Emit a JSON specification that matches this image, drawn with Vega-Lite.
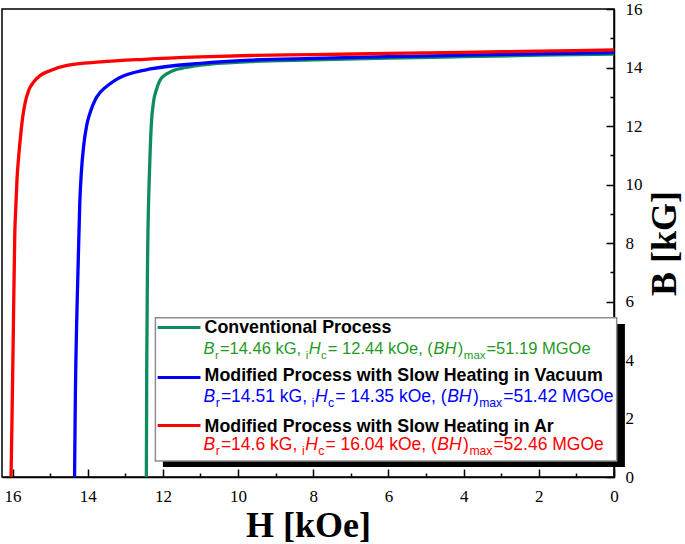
{
  "$schema": "https://vega.github.io/schema/vega-lite/v6.json",
  "width": 612,
  "height": 468,
  "padding": {"left": 2, "top": 9, "right": 71, "bottom": 67},
  "autosize": {"type": "none"},
  "background": "white",
  "config": {
    "view": {"stroke": "#000", "strokeWidth": 1.5},
    "axis": {"labelFont": "Liberation Serif", "labelFontSize": 17, "labelColor": "#000", "titleFont": "Liberation Serif", "titleFontSize": 36, "titleFontWeight": "bold", "titleColor": "#000", "tickColor": "#000", "domainColor": "#000", "grid": false}
  },
  "resolve": {"axis": {"x": "independent", "y": "independent"}},
  "layer": [
    {
      "data": {"values": [
        {"process": "Conventional Process", "H": 0, "B": 14.46},
        {"process": "Conventional Process", "H": 2, "B": 14.42},
        {"process": "Conventional Process", "H": 4, "B": 14.37},
        {"process": "Conventional Process", "H": 6, "B": 14.32},
        {"process": "Conventional Process", "H": 8, "B": 14.26},
        {"process": "Conventional Process", "H": 9.68, "B": 14.2},
        {"process": "Conventional Process", "H": 11, "B": 14.08},
        {"process": "Conventional Process", "H": 11.4, "B": 14.0},
        {"process": "Conventional Process", "H": 11.72, "B": 13.9},
        {"process": "Conventional Process", "H": 11.9, "B": 13.78},
        {"process": "Conventional Process", "H": 12.07, "B": 13.58},
        {"process": "Conventional Process", "H": 12.17, "B": 13.25},
        {"process": "Conventional Process", "H": 12.25, "B": 12.82},
        {"process": "Conventional Process", "H": 12.31, "B": 12.0},
        {"process": "Conventional Process", "H": 12.35, "B": 10.7},
        {"process": "Conventional Process", "H": 12.41, "B": 7.15},
        {"process": "Conventional Process", "H": 12.43, "B": 3.74},
        {"process": "Conventional Process", "H": 12.44, "B": 0},
        {"process": "Modified Process with Slow Heating in Vacuum", "H": 0, "B": 14.51},
        {"process": "Modified Process with Slow Heating in Vacuum", "H": 2, "B": 14.47},
        {"process": "Modified Process with Slow Heating in Vacuum", "H": 4, "B": 14.42},
        {"process": "Modified Process with Slow Heating in Vacuum", "H": 6, "B": 14.37},
        {"process": "Modified Process with Slow Heating in Vacuum", "H": 8, "B": 14.31},
        {"process": "Modified Process with Slow Heating in Vacuum", "H": 9.68, "B": 14.25},
        {"process": "Modified Process with Slow Heating in Vacuum", "H": 11, "B": 14.14},
        {"process": "Modified Process with Slow Heating in Vacuum", "H": 12.33, "B": 13.95},
        {"process": "Modified Process with Slow Heating in Vacuum", "H": 12.9, "B": 13.78},
        {"process": "Modified Process with Slow Heating in Vacuum", "H": 13.21, "B": 13.61},
        {"process": "Modified Process with Slow Heating in Vacuum", "H": 13.45, "B": 13.4},
        {"process": "Modified Process with Slow Heating in Vacuum", "H": 13.66, "B": 13.16},
        {"process": "Modified Process with Slow Heating in Vacuum", "H": 13.8, "B": 12.9},
        {"process": "Modified Process with Slow Heating in Vacuum", "H": 13.93, "B": 12.48},
        {"process": "Modified Process with Slow Heating in Vacuum", "H": 14.03, "B": 12.0},
        {"process": "Modified Process with Slow Heating in Vacuum", "H": 14.11, "B": 11.3},
        {"process": "Modified Process with Slow Heating in Vacuum", "H": 14.17, "B": 10.4},
        {"process": "Modified Process with Slow Heating in Vacuum", "H": 14.21, "B": 9.42},
        {"process": "Modified Process with Slow Heating in Vacuum", "H": 14.28, "B": 6.02},
        {"process": "Modified Process with Slow Heating in Vacuum", "H": 14.33, "B": 2.61},
        {"process": "Modified Process with Slow Heating in Vacuum", "H": 14.35, "B": 0},
        {"process": "Modified Process with Slow Heating in Ar", "H": 0, "B": 14.6},
        {"process": "Modified Process with Slow Heating in Ar", "H": 2, "B": 14.56},
        {"process": "Modified Process with Slow Heating in Ar", "H": 4, "B": 14.52},
        {"process": "Modified Process with Slow Heating in Ar", "H": 6, "B": 14.48},
        {"process": "Modified Process with Slow Heating in Ar", "H": 8, "B": 14.44},
        {"process": "Modified Process with Slow Heating in Ar", "H": 9.68, "B": 14.41},
        {"process": "Modified Process with Slow Heating in Ar", "H": 11, "B": 14.36},
        {"process": "Modified Process with Slow Heating in Ar", "H": 12.5, "B": 14.28},
        {"process": "Modified Process with Slow Heating in Ar", "H": 13.66, "B": 14.19},
        {"process": "Modified Process with Slow Heating in Ar", "H": 14.55, "B": 14.07},
        {"process": "Modified Process with Slow Heating in Ar", "H": 14.99, "B": 13.9},
        {"process": "Modified Process with Slow Heating in Ar", "H": 15.26, "B": 13.73},
        {"process": "Modified Process with Slow Heating in Ar", "H": 15.44, "B": 13.5},
        {"process": "Modified Process with Slow Heating in Ar", "H": 15.57, "B": 13.22},
        {"process": "Modified Process with Slow Heating in Ar", "H": 15.66, "B": 12.82},
        {"process": "Modified Process with Slow Heating in Ar", "H": 15.73, "B": 12.3},
        {"process": "Modified Process with Slow Heating in Ar", "H": 15.79, "B": 11.6},
        {"process": "Modified Process with Slow Heating in Ar", "H": 15.84, "B": 10.9},
        {"process": "Modified Process with Slow Heating in Ar", "H": 15.88, "B": 10.2},
        {"process": "Modified Process with Slow Heating in Ar", "H": 15.91, "B": 9.3},
        {"process": "Modified Process with Slow Heating in Ar", "H": 15.94, "B": 8.3},
        {"process": "Modified Process with Slow Heating in Ar", "H": 15.98, "B": 4.89},
        {"process": "Modified Process with Slow Heating in Ar", "H": 16.02, "B": 1.49},
        {"process": "Modified Process with Slow Heating in Ar", "H": 16.04, "B": 0}
      ]},
      "mark": {"type": "line", "strokeWidth": 3.3, "interpolate": "monotone"},
      "encoding": {
        "x": {
          "field": "H", "type": "quantitative",
          "scale": {"domain": [0, 16.28], "reverse": true, "nice": false, "zero": false},
          "axis": {
            "title": "H [kOe]", "titleFont": "Liberation Serif", "titleFontSize": 36, "titleFontWeight": "bold", "titleColor": "#000", "titlePadding": 4,
            "values": [0, 2, 4, 6, 8, 10, 12, 14, 16],
            "labelFont": "Liberation Serif", "labelFontSize": 17, "labelColor": "#000", "labelPadding": 19,
            "labelFlush": false, "labelOverlap": false,
            "tickSize": -8, "tickColor": "#000", "tickWidth": 1.5, "domainColor": "#000", "domainWidth": 1.5, "grid": false
          }
        },
        "y": {
          "field": "B", "type": "quantitative",
          "scale": {"domain": [0, 16], "nice": false, "zero": false},
          "axis": {
            "orient": "right",
            "title": "B [kG]", "titleFont": "Liberation Serif", "titleFontSize": 36, "titleFontWeight": "bold", "titleColor": "#000", "titlePadding": 5,
            "titleAngle": -90, "titleBaseline": "top",
            "values": [0, 2, 4, 6, 8, 10, 12, 14, 16],
            "labelFont": "Liberation Serif", "labelFontSize": 17, "labelColor": "#000", "labelPadding": 19,
            "labelFlush": false, "labelOverlap": false,
            "tickSize": -8, "tickColor": "#000", "tickWidth": 1.5, "domainColor": "#000", "domainWidth": 1.5, "grid": false
          }
        },
        "color": {"field": "process", "type": "nominal", "legend": null,
          "scale": {"domain": ["Conventional Process", "Modified Process with Slow Heating in Vacuum", "Modified Process with Slow Heating in Ar"], "range": ["#0e8c5c", "#0000ff", "#ff0000"]}},
        "order": {"field": "H", "sort": "descending"}
      }
    },
    {
      "data": {"values": [{"H": 12.0, "H2": -0.29, "B": 5.23, "B2": 0.34}]},
      "mark": {"type": "rect", "fill": "#000"},
      "encoding": {
        "x": {"field": "H", "type": "quantitative",
          "axis": {"orient": "bottom", "values": [1, 3, 5, 7, 9, 11, 13, 15], "labels": false, "domain": false, "title": null, "tickSize": -4, "tickColor": "#000", "tickWidth": 1.5, "grid": false}},
        "x2": {"field": "H2"},
        "y": {"field": "B", "type": "quantitative",
          "axis": {"orient": "right", "values": [1, 3, 5, 7, 9, 11, 13, 15], "labels": false, "domain": false, "title": null, "tickSize": -4, "tickColor": "#000", "tickWidth": 1.5, "grid": false}},
        "y2": {"field": "B2"}
      }
    },
    {
      "data": {"values": [{"H": 12.2, "H2": -0.072, "B": 5.447, "B2": 0.545}]},
      "mark": {"type": "rect", "fill": "#fff", "stroke": "#8c8c8c", "strokeWidth": 1.5},
      "encoding": {
        "x": {"field": "H", "type": "quantitative", "axis": null},
        "x2": {"field": "H2"},
        "y": {"field": "B", "type": "quantitative", "axis": null},
        "y2": {"field": "B2"}
      }
    },
    {
      "data": {"values": [
        {"process": "Conventional Process", "H": 12.14, "H2": 11.0, "B": 5.11},
        {"process": "Modified Process with Slow Heating in Vacuum", "H": 12.14, "H2": 11.0, "B": 3.4},
        {"process": "Modified Process with Slow Heating in Ar", "H": 12.14, "H2": 11.0, "B": 1.76}
      ]},
      "mark": {"type": "rule", "strokeWidth": 3},
      "encoding": {
        "x": {"field": "H", "type": "quantitative", "axis": null},
        "x2": {"field": "H2"},
        "y": {"field": "B", "type": "quantitative", "axis": null},
        "color": {"field": "process", "type": "nominal", "legend": null}
      }
    },
    {
      "data": {"values": [
        {"text": "Conventional Process", "H": 10.89, "B": 4.92},
        {"text": "Modified Process with Slow Heating in Vacuum", "H": 10.89, "B": 3.29},
        {"text": "Modified Process with Slow Heating in Ar", "H": 10.89, "B": 1.55}
      ]},
      "mark": {"type": "text", "align": "left", "baseline": "alphabetic", "font": "Liberation Sans", "fontSize": 17.8, "fontWeight": "bold", "color": "#000"},
      "encoding": {
        "x": {"field": "H", "type": "quantitative", "axis": null},
        "y": {"field": "B", "type": "quantitative", "axis": null},
        "text": {"field": "text"}
      }
    },
    {
      "data": {"values": [
        {"process": "Conventional Process", "part": "symbol", "text": "B", "H": 10.917, "B": 4.2},
        {"process": "Conventional Process", "part": "subscript", "text": "r", "H": 10.611, "B": 4.2},
        {"process": "Conventional Process", "part": "value", "text": "=14.46 kG,", "H": 10.484, "B": 4.2},
        {"process": "Conventional Process", "part": "subscript", "text": "i", "H": 8.203, "B": 4.2},
        {"process": "Conventional Process", "part": "symbol", "text": "H", "H": 8.121, "B": 4.2},
        {"process": "Conventional Process", "part": "subscript", "text": "c", "H": 7.791, "B": 4.2},
        {"process": "Conventional Process", "part": "value", "text": "= 12.44 kOe, (", "H": 7.613, "B": 4.2},
        {"process": "Conventional Process", "part": "symbol", "text": "BH", "H": 4.803, "B": 4.2},
        {"process": "Conventional Process", "part": "value", "text": ")", "H": 4.155, "B": 4.2},
        {"process": "Conventional Process", "part": "subscript", "text": "max", "H": 3.995, "B": 4.2},
        {"process": "Conventional Process", "part": "value", "text": "=51.19 MGOe", "H": 3.392, "B": 4.2},
        {"process": "Modified Process with Slow Heating in Vacuum", "part": "symbol", "text": "B", "H": 10.917, "B": 2.56},
        {"process": "Modified Process with Slow Heating in Vacuum", "part": "subscript", "text": "r", "H": 10.593, "B": 2.56},
        {"process": "Modified Process with Slow Heating in Vacuum", "part": "value", "text": "=14.51 kG,", "H": 10.457, "B": 2.56},
        {"process": "Modified Process with Slow Heating in Vacuum", "part": "subscript", "text": "i", "H": 8.038, "B": 2.56},
        {"process": "Modified Process with Slow Heating in Vacuum", "part": "symbol", "text": "H", "H": 7.953, "B": 2.56},
        {"process": "Modified Process with Slow Heating in Vacuum", "part": "subscript", "text": "c", "H": 7.605, "B": 2.56},
        {"process": "Modified Process with Slow Heating in Vacuum", "part": "value", "text": "= 14.35 kOe, (", "H": 7.416, "B": 2.56},
        {"process": "Modified Process with Slow Heating in Vacuum", "part": "symbol", "text": "BH", "H": 4.439, "B": 2.56},
        {"process": "Modified Process with Slow Heating in Vacuum", "part": "value", "text": ")", "H": 3.753, "B": 2.56},
        {"process": "Modified Process with Slow Heating in Vacuum", "part": "subscript", "text": "max", "H": 3.586, "B": 2.56},
        {"process": "Modified Process with Slow Heating in Vacuum", "part": "value", "text": "=51.42 MGOe", "H": 2.948, "B": 2.56},
        {"process": "Modified Process with Slow Heating in Ar", "part": "symbol", "text": "B", "H": 10.917, "B": 0.91},
        {"process": "Modified Process with Slow Heating in Ar", "part": "subscript", "text": "r", "H": 10.593, "B": 0.91},
        {"process": "Modified Process with Slow Heating in Ar", "part": "value", "text": "=14.6 kG,", "H": 10.457, "B": 0.91},
        {"process": "Modified Process with Slow Heating in Ar", "part": "subscript", "text": "i", "H": 8.299, "B": 0.91},
        {"process": "Modified Process with Slow Heating in Ar", "part": "symbol", "text": "H", "H": 8.214, "B": 0.91},
        {"process": "Modified Process with Slow Heating in Ar", "part": "subscript", "text": "c", "H": 7.866, "B": 0.91},
        {"process": "Modified Process with Slow Heating in Ar", "part": "value", "text": "= 16.04 kOe, (", "H": 7.677, "B": 0.91},
        {"process": "Modified Process with Slow Heating in Ar", "part": "symbol", "text": "BH", "H": 4.7, "B": 0.91},
        {"process": "Modified Process with Slow Heating in Ar", "part": "value", "text": ")", "H": 4.014, "B": 0.91},
        {"process": "Modified Process with Slow Heating in Ar", "part": "subscript", "text": "max", "H": 3.846, "B": 0.91},
        {"process": "Modified Process with Slow Heating in Ar", "part": "value", "text": "=52.46 MGOe", "H": 3.208, "B": 0.91}
      ]},
      "encoding": {
        "x": {"field": "H", "type": "quantitative", "axis": null},
        "y": {"field": "B", "type": "quantitative", "axis": null},
        "text": {"field": "text"},
        "fill": {"field": "process", "type": "nominal", "legend": null,
          "scale": {"domain": ["Conventional Process", "Modified Process with Slow Heating in Vacuum", "Modified Process with Slow Heating in Ar"], "range": ["#1f9a1f", "#0000ff", "#ff0000"]}}
      },
      "resolve": {"scale": {"size": "independent"}},
      "layer": [
        {"transform": [{"filter": "datum.part !== 'subscript'"}],
         "encoding": {"size": {"field": "process", "type": "ordinal", "legend": null,
           "scale": {"type": "ordinal", "domain": ["Conventional Process", "Modified Process with Slow Heating in Vacuum", "Modified Process with Slow Heating in Ar"], "range": [16.5, 17.5, 17.5]}}},
         "layer": [
           {"transform": [{"filter": "datum.part === 'symbol'"}],
            "mark": {"type": "text", "align": "left", "baseline": "alphabetic", "font": "Liberation Sans", "fontStyle": "italic"}},
           {"transform": [{"filter": "datum.part === 'value'"}],
            "mark": {"type": "text", "align": "left", "baseline": "alphabetic", "font": "Liberation Sans"}}
         ]},
        {"transform": [{"filter": "datum.part === 'subscript'"}],
         "mark": {"type": "text", "align": "left", "baseline": "alphabetic", "font": "Liberation Sans", "dy": 5},
         "encoding": {"size": {"field": "process", "type": "ordinal", "legend": null,
           "scale": {"type": "ordinal", "domain": ["Conventional Process", "Modified Process with Slow Heating in Vacuum", "Modified Process with Slow Heating in Ar"], "range": [11.5, 12.2, 12.2]}}}}
      ]
    }
  ]
}
